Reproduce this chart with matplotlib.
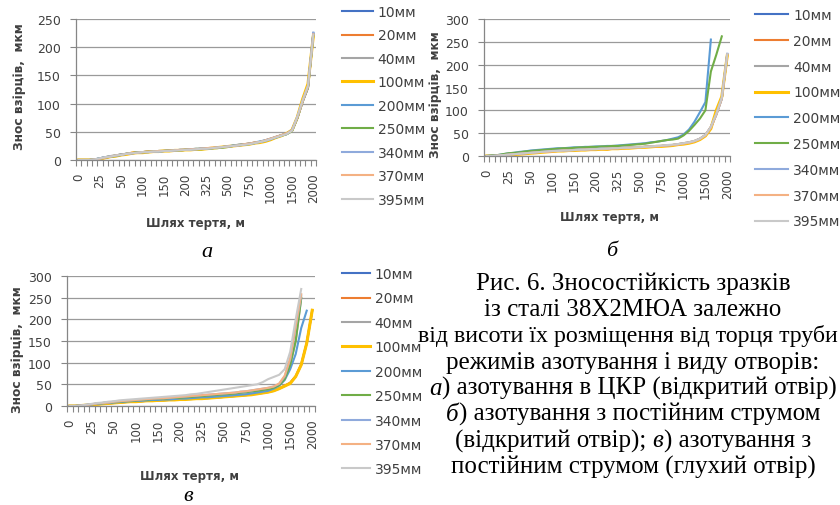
import numpy as np
import matplotlib.pyplot as plt

nan = np.nan

# category axis (every 4th label shown, like the Excel chart)
x_labels = ['0', '25', '50', '100', '150', '200', '325', '500', '750', '1000', '1500', '2000']
n_cat = 45
sizes = ['10мм', '20мм', '40мм', '100мм', '200мм', '250мм', '340мм', '370мм', '395мм']
colors = ['#4472C4', '#ED7D31', '#A5A5A5', '#FFC000', '#5B9BD5', '#70AD47', '#8FAADC', '#F4B183', '#C9C9C9']

# a) nitriding in CKR (open hole)
a_10  = [0,0,0,1,3, 5,6,8,10,11, 12,13,14,14,15, 15,16,16,17,17, 18,18,19,20,20, 21,22,23,24,25, 26,27,29,30,32, 35,38,41,44,46, 52,75,105,130,224]
a_20  = [0,0,0,1,2, 4,6,8,9,11, 13,14,14,15,15, 16,16,16,17,17, 18,19,19,20,21, 21,22,23,24,25, 26,28,29,31,32, 34,37,40,44,47, 53,76,104,128,222]
a_40  = [0,0,0,1,3, 5,7,8,10,11, 12,13,14,15,15, 16,16,17,17,18, 18,19,19,20,20, 21,22,23,24,25, 27,28,29,30,32, 34,37,40,43,46, 52,74,103,129,223]
a_100 = [0,0,0,0,2, 4,6,7,9,10, 12,13,13,14,15, 15,16,16,17,17, 18,18,19,19,20, 21,22,23,24,25, 26,27,28,30,31, 33,36,40,43,47, 53,76,108,135,220]
a_200 = [0,0,0,1,3, 5,6,8,9,11, 12,13,14,14,15, 15,16,17,17,18, 18,19,20,20,21, 21,22,23,24,26, 27,28,29,31,33, 35,37,40,44,46, 52,75,104,128,225]
a_250 = [0,0,0,1,2, 4,6,7,9,11, 12,14,14,15,15, 16,16,17,17,17, 18,18,19,19,20, 21,21,22,23,25, 26,27,28,30,32, 34,37,40,43,46, 51,74,104,129,221]
a_340 = [0,0,0,1,3, 5,7,8,10,11, 12,13,14,14,15, 15,16,16,17,18, 18,19,19,20,20, 21,22,23,24,25, 26,27,29,30,32, 34,37,41,44,47, 53,76,105,131,226]
a_370 = [0,0,0,1,2, 4,6,8,9,11, 12,13,14,15,15, 16,16,17,17,18, 18,19,19,20,21, 22,22,23,24,25, 26,28,29,31,32, 35,38,41,44,47, 52,75,104,130,223]
a_395 = [0,0,0,1,3, 5,6,8,9,11, 12,13,14,14,15, 15,16,16,17,17, 18,18,19,20,20, 21,22,23,24,25, 26,27,28,30,32, 34,37,40,43,46, 52,77,106,132,222]

# b) constant current nitriding (open hole)
b_10  = [0,0,1,2,3, 4,5,6,7,8, 9,10,11,12,12, 13,13,14,14,15, 15,16,16,17,17, 18,18,19,19,20, 21,21,22,23,24, 25,27,29,32,37, 45,63,92,126,223]
b_20  = [0,0,1,2,3, 4,5,6,7,8, 9,10,10,11,12, 12,13,13,14,14, 15,15,14,16,17, 17,18,18,19,20, 20,21,22,23,24, 26,28,30,33,38, 46,64,92,127,221]
b_40  = [0,0,1,2,3, 4,5,6,7,8, 9,10,11,11,12, 12,13,13,14,14, 15,15,16,16,17, 17,18,18,19,20, 20,21,22,23,24, 25,27,29,32,37, 45,62,90,125,222]
b_100 = [0,0,0,1,2, 3,4,5,6,7, 8,9,10,11,11, 12,12,13,13,14, 14,15,15,16,16, 17,17,18,19,19, 20,21,21,22,23, 25,26,28,31,36, 44,60,100,130,220]
b_200 = [0,1,2,4,6, 7,9,10,12,13, 14,15,16,17,17, 18,19,19,20,20, 21,21,22,22,23, 24,25,26,27,28, 30,31,33,35,38, 41,47,58,75,96, 118,255,nan,nan,nan]
b_250 = [0,1,2,4,6, 7,8,10,11,12, 13,14,15,16,17, 17,18,19,19,20, 20,21,21,22,22, 23,24,25,26,27, 29,31,33,35,36, 38,45,55,68,82, 100,185,222,262,nan]
b_340 = [0,0,1,2,3, 4,5,6,7,8, 9,10,11,12,12, 13,13,14,14,15, 15,16,16,17,17, 18,18,19,20,20, 21,22,22,23,24, 26,28,30,33,38, 46,63,91,127,224]
b_370 = [0,0,1,2,3, 4,5,6,7,8, 9,9,10,11,12, 12,13,13,14,14, 15,15,16,16,17, 17,18,19,19,20, 21,21,22,23,24, 25,27,29,32,37, 45,62,91,126,222]
b_395 = [0,0,1,2,3, 4,5,6,7,8, 9,10,11,11,12, 12,13,14,14,15, 15,16,16,17,17, 18,18,19,19,20, 21,22,23,24,25, 26,28,30,33,38, 46,64,93,128,223]

# c) constant current nitriding (blind hole)
c_10  = [0,0,1,2,3, 4,5,6,7,8, 9,10,11,11,12, 12,13,13,14,15, 15,16,16,17,18, 18,19,20,21,22, 23,24,25,27,28, 30,32,35,40,46, 53,68,95,145,220]
c_20  = [0,0,1,2,3, 4,5,6,7,8, 9,10,10,11,12, 12,13,14,14,15, 15,16,17,17,18, 19,19,20,21,22, 23,24,26,27,29, 31,33,36,41,47, 54,69,96,146,221]
c_40  = [0,0,1,2,4, 5,7,8,9,10, 11,12,13,14,15, 16,16,17,18,18, 19,20,21,22,23, 24,25,26,27,28, 29,30,32,33,35, 37,39,42,48,62, 95,150,248,nan,nan]
c_100 = [0,0,1,2,3, 4,5,6,7,8, 9,10,10,11,12, 12,13,13,14,14, 15,15,16,17,17, 18,19,20,21,22, 23,24,25,26,28, 30,32,35,40,46, 52,68,95,145,221]
c_200 = [0,0,1,2,4, 5,6,7,8,9, 10,11,12,12,13, 14,14,15,15,16, 17,17,18,19,20, 20,21,22,23,24, 25,26,27,29,31, 33,35,40,47,60, 85,120,180,220,nan]
c_250 = [0,0,1,2,4, 5,7,8,9,10, 11,12,13,14,15, 16,16,17,18,19, 19,20,21,22,23, 24,25,26,27,28, 29,31,32,34,35, 37,39,42,48,62, 95,150,250,nan,nan]
c_340 = [0,0,1,3,4, 6,7,8,10,11, 12,13,14,15,16, 17,17,18,19,20, 21,22,23,24,25, 26,27,28,29,30, 31,33,34,36,38, 40,42,45,51,68, 108,182,255,nan,nan]
c_370 = [0,0,1,2,4, 6,7,8,10,11, 12,13,14,15,16, 17,18,18,19,20, 21,22,23,24,25, 26,27,28,29,30, 31,33,34,36,38, 40,42,45,52,70, 110,185,258,nan,nan]
c_395 = [0,0,1,3,5, 7,8,10,11,13, 14,15,16,17,18, 19,20,21,22,23, 24,25,27,28,30, 32,34,36,38,40, 42,44,46,48,50, 55,62,67,72,85, 125,200,270,nan,nan]

W, H = 840, 506
fig = plt.figure(figsize=(W / 100, H / 100), dpi=100)
fig.patch.set_facecolor('white')

txt_col = '#404040'
grid_col = '#9a9a9a'
axis_col = '#868686'

# rect in pixels: left, top, right, bottom ; legend: x, top, handle len, spacing
panels = [
    dict(data=[a_10, a_20, a_40, a_100, a_200, a_250, a_340, a_370, a_395],
         px=(76, 20, 316, 161), ymax=250,
         leg=(342, 6, 2.2, 0.68), ylab=(20, 87), xlab=(196, 223), letter=('а', 207, 257)),
    dict(data=[b_10, b_20, b_40, b_100, b_200, b_250, b_340, b_370, b_395],
         px=(484, 20, 730, 157), ymax=300,
         leg=(755, 9, 2.4, 0.85), ylab=(435, 95), xlab=(609, 218), letter=('б', 612, 256)),
    dict(data=[c_10, c_20, c_40, c_100, c_200, c_250, c_340, c_370, c_395],
         px=(67, 277, 315, 407), ymax=300,
         leg=(342, 268, 2.0, 0.75), ylab=(18, 350), xlab=(190, 477), letter=('в', 188, 501)),
]

for p in panels:
    l, t, r, b = p['px']
    ax = fig.add_axes([l / W, 1 - b / H, (r - l) / W, (b - t) / H])
    handles = []
    for vals, name, col in zip(p['data'], sizes, colors):
        x = np.arange(len(vals))
        lw = 2.2 if name == '100мм' else 1.5
        h, = ax.plot(x, vals, color=col, lw=lw, label=name, solid_joinstyle='round')
        handles.append(h)

    ax.set_xlim(-0.5, n_cat - 0.5)
    ax.set_ylim(0, p['ymax'])
    ax.set_yticks(np.arange(0, p['ymax'] + 1, 50))
    ax.yaxis.grid(True, color=grid_col, lw=0.9)
    ax.set_axisbelow(True)

    ax.set_xticks(np.arange(0, n_cat, 4))
    ax.set_xticklabels(x_labels, rotation=90)
    ax.set_xticks(np.arange(-0.5, n_cat, 1), minor=True)
    ax.tick_params(axis='x', which='major', length=0, pad=9, labelsize=8.5, labelcolor=txt_col)
    ax.tick_params(axis='x', which='minor', length=4, color=axis_col, width=0.8)
    ax.tick_params(axis='y', length=4, color=axis_col, width=0.8, pad=7, labelsize=9, labelcolor=txt_col)

    for s in ['top', 'right']:
        ax.spines[s].set_visible(False)
    for s in ['left', 'bottom']:
        ax.spines[s].set_color(axis_col)
        ax.spines[s].set_linewidth(0.9)

    lx, lt, hl, sp = p['leg']
    fig.legend(handles, sizes, loc='upper left', bbox_to_anchor=(lx / W, 1 - lt / H),
               frameon=False, borderpad=0, borderaxespad=0, handlelength=hl,
               handletextpad=0.36, labelspacing=sp, prop={'size': 10}, labelcolor=txt_col)

    fig.text(p['ylab'][0] / W, 1 - p['ylab'][1] / H, 'Знос взірців,  мкм', rotation=90,
             ha='center', va='center', fontsize=8.8, fontweight='bold', color=txt_col)
    fig.text(p['xlab'][0] / W, 1 - p['xlab'][1] / H, 'Шлях тертя, м',
             ha='center', va='center', fontsize=8.5, fontweight='bold', color=txt_col)
    let, lxp, lyp = p['letter']
    fig.text(lxp / W, 1 - lyp / H, let, ha='center', va='baseline', fontsize=16,
             family='Liberation Serif', style='italic')

# caption, mixed upright / italic pieces, centred
caption = [
    [('Рис. 6. Зносостійкість зразків', 'normal')],
    [('із сталі 38Х2МЮА залежно', 'normal')],
    [('від висоти їх розміщення від торця труби', 'normal')],
    [('режимів азотування і виду отворів:', 'normal')],
    [('а', 'italic'), (') азотування в ЦКР (відкритий отвір)', 'normal')],
    [('б', 'italic'), (') азотування з постійним струмом', 'normal')],
    [('(відкритий отвір);', 'normal'), (' ', 'space'), ('в', 'italic'), (') азотування з', 'normal')],
    [('постійним струмом (глухий отвір)', 'normal')],
]
cap_size = [18, 18, 17.2, 18, 18, 18, 18, 18]
cap_cx = [633, 633, 628, 633, 633, 633, 633, 633]
cap_y0 = 290
cap_dy = 26.2

r = fig.canvas.get_renderer()

for i, parts in enumerate(caption):
    font = dict(family='Liberation Serif', fontsize=cap_size[i], color='black')
    y = 1 - (cap_y0 + i * cap_dy) / H
    items = []
    for s, st in parts:
        if st == 'space':
            t1 = fig.text(0, 0, 'xx', **font)
            t2 = fig.text(0, 0, 'x x', **font)
            items.append((None, t2.get_window_extent(r).width - t1.get_window_extent(r).width))
            t1.remove()
            t2.remove()
            continue
        t = fig.text(0, y, s, ha='left', va='baseline', style=st, **font)
        items.append((t, t.get_window_extent(r).width))
    total = sum(w for _, w in items)
    xpos = cap_cx[i] - total / 2
    for t, w in items:
        if t is not None:
            t.set_x(xpos / W)
        xpos += w

fig.savefig('out.png', dpi=100)
